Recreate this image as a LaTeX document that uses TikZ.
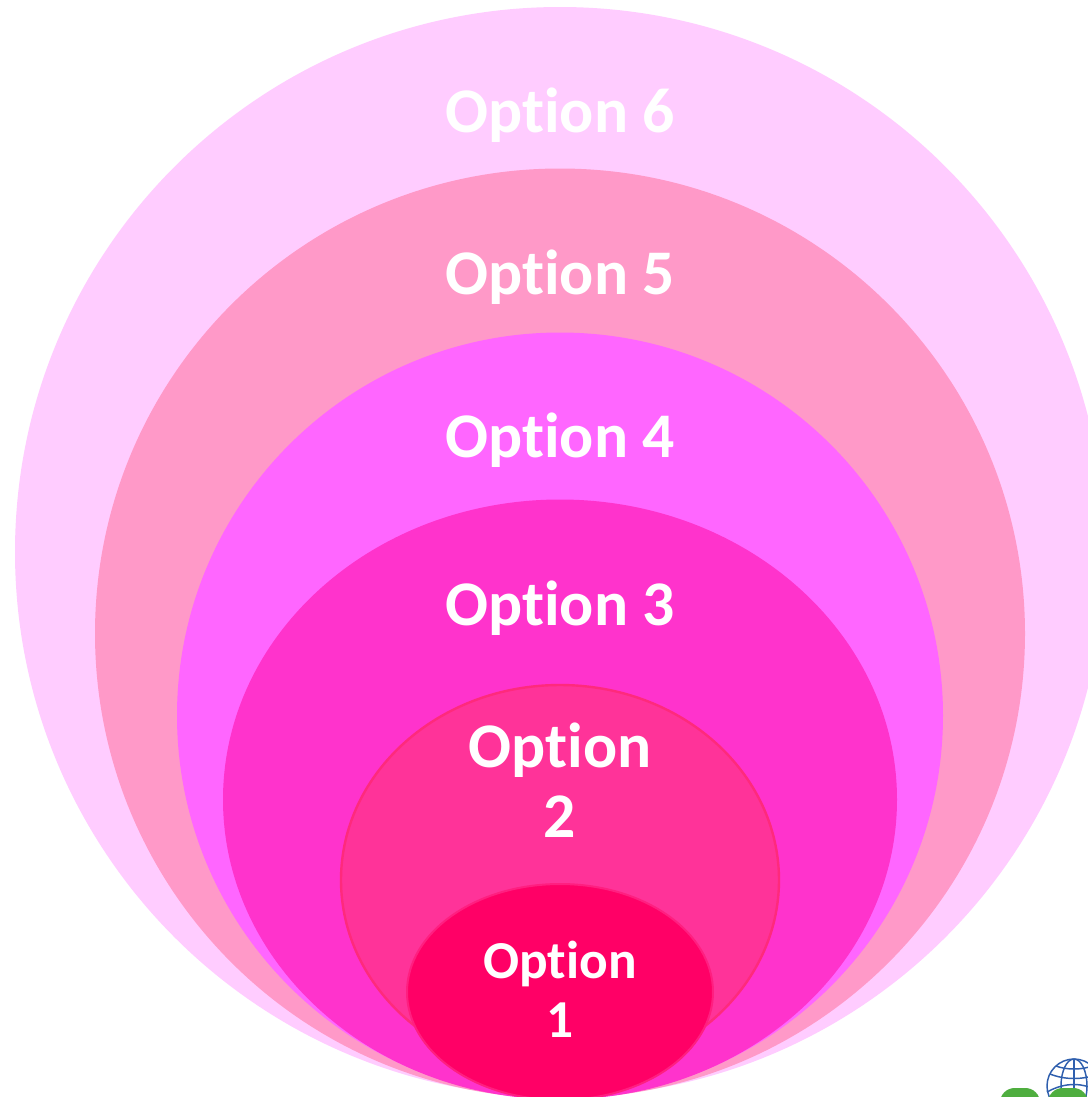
\documentclass[tikz,border=0pt]{standalone}
\usepackage{fontspec}
\setmainfont[Ligatures=NoCommon,RawFeature={-liga;-clig;-dlig}]{Carlito}
\definecolor{c6}{HTML}{FFCCFF}
\definecolor{c5}{HTML}{FF99C8}
\definecolor{c4}{HTML}{FF66FF}
\definecolor{c3}{HTML}{FF33CC}
\definecolor{c2}{HTML}{FF3399}
\definecolor{c1}{HTML}{FF0066}
\definecolor{edge2}{HTML}{FF2A7C}
\definecolor{edge1}{HTML}{FF1F80}
\definecolor{logogreen}{HTML}{4FAE3F}
\definecolor{logoblue}{HTML}{2F5FAE}
\tikzset{
  x=0.75pt,y=-0.75pt,
  optlabel/.style={text=white,align=center,inner sep=0pt},
  bigfont/.style={font=\fontsize{47.7}{48}\selectfont\bfseries},
  globeline/.style={draw=logoblue,line width=1.1pt},
}
\begin{document}
\begin{tikzpicture}
\useasboundingbox (0,0) rectangle (1088,1097);
\clip (0,0) rectangle (1088,1097);
\fill[white] (0,0) rectangle (1088,1097);
% nested ellipses
\fill[c6] (560,552) ellipse [x radius=545,y radius=545];
\fill[c5] (560,633.5) ellipse [x radius=465,y radius=465];
\fill[c4] (560,715.5) ellipse [x radius=383,y radius=383];
\fill[c3] (560,799.5) ellipse [x radius=337,y radius=300];
\draw[fill=c2,draw=edge2,line width=1.8pt] (560,880) ellipse [x radius=219,y radius=195];
\draw[fill=c1,draw=edge1,line width=1.5pt] (560,992) ellipse [x radius=153,y radius=108];
% labels
\node[optlabel,bigfont] (o6) at (560,115) {Option 6};
\node[optlabel,bigfont] (o5) at (560,277) {Option 5};
\node[optlabel,bigfont] (o4) at (560,440) {Option 4};
\node[optlabel,bigfont] (o3) at (560,608) {Option 3};
\node[optlabel,font=\fontsize{47.7}{52.5}\selectfont\bfseries] (o2) at (560,780) {Option\\2};
\node[optlabel,font=\fontsize{40}{44}\selectfont\bfseries] (o1) at (560,989) {Option\\1};
% logo fragment
\begin{scope}
\clip (1040,1050) rectangle (1088,1097);
\draw[globeline] (1074,1086) circle [radius=27];
\draw[globeline] (1074,1086) ellipse [x radius=13,y radius=27];
\draw[globeline] (1074,1059) -- (1074,1097);
\draw[globeline] (1050,1074) .. controls (1065,1080) and (1083,1080) .. (1098,1074);
\draw[globeline] (1047,1092) .. controls (1065,1082) and (1083,1082) .. (1100,1092);
\draw[globeline] (1056,1066) .. controls (1066,1070) and (1082,1070) .. (1092,1066);
\end{scope}
\fill[logogreen,rounded corners=11pt] (1000,1088) rectangle (1040,1120);
\fill[logogreen,rounded corners=11pt] (1048,1088) rectangle (1088,1120);
\end{tikzpicture}
\end{document}
